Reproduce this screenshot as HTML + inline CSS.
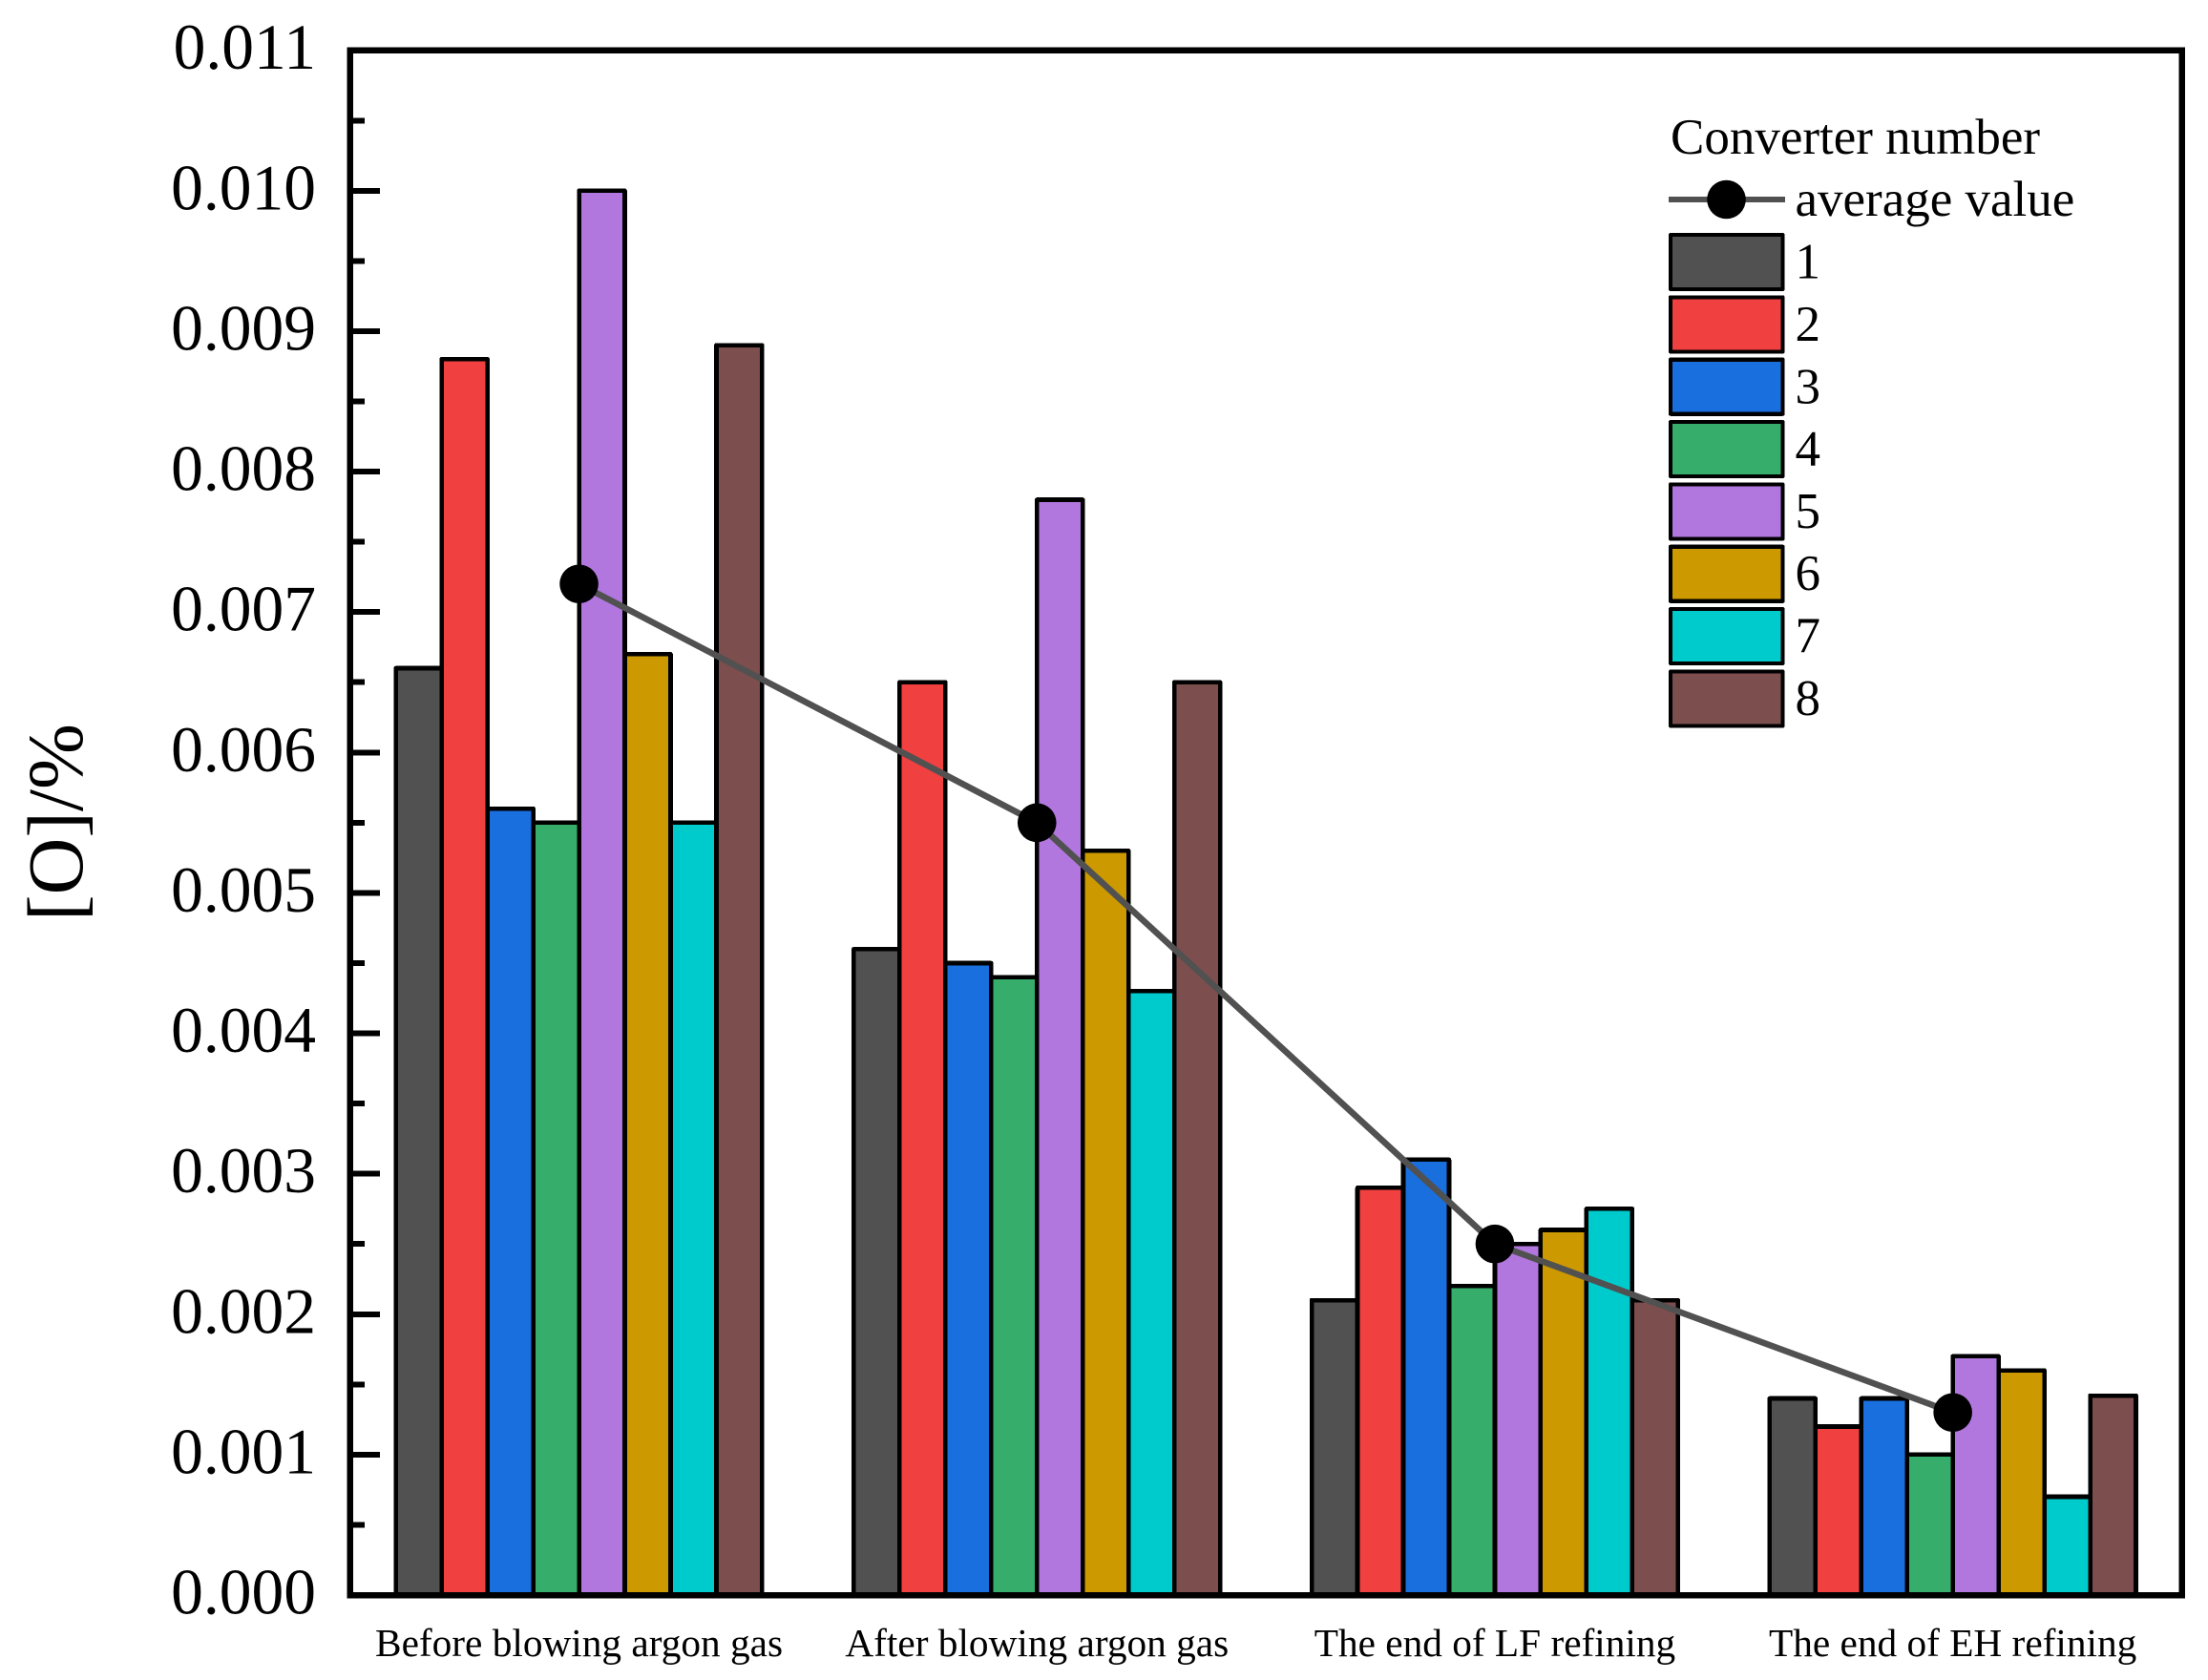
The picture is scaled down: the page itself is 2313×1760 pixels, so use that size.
<!DOCTYPE html>
<html lang="en">
<head>
<meta charset="utf-8">
<title>[O]/% by refining stage</title>
<style>
  html, body { margin: 0; padding: 0; background: #ffffff; }
  #chart { display: block; width: 2313px; height: 1760px; }
  text { font-family: "Liberation Serif", "Times New Roman", serif; fill: #000000; }
</style>
</head>
<body>
<svg id="chart" xmlns="http://www.w3.org/2000/svg" width="2313" height="1760" viewBox="0 0 2313 1760">
  <rect x="0" y="0" width="2313" height="1760" fill="#ffffff"></rect>
  <g id="bars" shape-rendering="crispEdges"></g>
  <g id="axes" shape-rendering="crispEdges"></g>
  <g id="avg"></g>
  <g id="labels"></g>
  <text transform="translate(86 861.5) rotate(-90)" text-anchor="middle" font-size="82.8">[O]/%</text>
  <g id="legend"></g>
</svg>
<script>
// ---- chart data ----
const categories = ["Before blowing argon gas", "After blowing argon gas", "The end of LF refining", "The end of EH refining"];
const converterNames = ["1", "2", "3", "4", "5", "6", "7", "8"];
const converter1 = [0.0066, 0.0046, 0.0021, 0.0014];
const converter2 = [0.0088, 0.0065, 0.0029, 0.0012];
const converter3 = [0.0056, 0.0045, 0.0031, 0.0014];
const converter4 = [0.0055, 0.0044, 0.0022, 0.0010];
const converter5 = [0.0100, 0.0078, 0.0025, 0.0017];
const converter6 = [0.0067, 0.0053, 0.0026, 0.0016];
const converter7 = [0.0055, 0.0043, 0.00275, 0.0007];
const converter8 = [0.0089, 0.0065, 0.0021, 0.00142];
const averageValues = [0.0072, 0.0055, 0.0025, 0.0013];
const yTickValues = [0, 0.001, 0.002, 0.003, 0.004, 0.005, 0.006, 0.007, 0.008, 0.009, 0.010, 0.011];
const yTickLabels = ["0.000", "0.001", "0.002", "0.003", "0.004", "0.005", "0.006", "0.007", "0.008", "0.009", "0.010", "0.011"];
const yMinorTickValues = [0.0005, 0.0015, 0.0025, 0.0035, 0.0045, 0.0055, 0.0065, 0.0075, 0.0085, 0.0095, 0.0105];

const allSeries = [converter1, converter2, converter3, converter4, converter5, converter6, converter7, converter8];
const palette = ["#515151", "#F14040", "#1A6FDF", "#37AD6B", "#B177DE", "#CC9900", "#00CBCC", "#7D4E4E"];
const lineColor = "#515151";

// ---- plot geometry and axis functions ----
const plot = { left: 366.7, right: 2285.5, top: 52.7, bottom: 1671 };
const yMax = 0.011;
function xScale(position) {
  return plot.left + (position + 0.5) * (plot.right - plot.left) / categories.length;
}
function yScale(value) {
  return plot.bottom - (value / yMax) * (plot.bottom - plot.top);
}
const barWidth = 0.1 * (plot.right - plot.left) / categories.length;

const NS = "http://www.w3.org/2000/svg";
function make(tag, parent, attrs) {
  const el = document.createElementNS(NS, tag);
  for (const k in attrs) el.setAttribute(k, attrs[k]);
  parent.appendChild(el);
  return el;
}

// ---- bars ----
const barsLayer = document.getElementById("bars");
allSeries.forEach(function (values, s) {
  values.forEach(function (v, c) {
    const left = xScale(c) + (s - allSeries.length / 2) * barWidth;
    const bar = make("rect", barsLayer, {
      x: left, y: yScale(v), width: barWidth, height: plot.bottom - yScale(v),
      fill: palette[s], stroke: "#000000", "stroke-width": 4.6, "stroke-linejoin": "round"
    });
    
    
  });
});

// ---- axes ----
const axesLayer = document.getElementById("axes");
const frame = make("rect", axesLayer, {
  x: plot.left, y: plot.top, width: plot.right - plot.left, height: plot.bottom - plot.top,
  fill: "none", stroke: "#000000", "stroke-width": 6.5
});



yTickValues.forEach(function (v) {
  const tick = make("line", axesLayer, {
    x1: plot.left, x2: 398, y1: yScale(v), y2: yScale(v), stroke: "#000000", "stroke-width": 6
  });
  
  
});
yMinorTickValues.forEach(function (v) {
  const tick = make("line", axesLayer, {
    x1: plot.left, x2: 382, y1: yScale(v), y2: yScale(v), stroke: "#000000", "stroke-width": 6
  });
  
  
});

// ---- tick labels ----
const labelsLayer = document.getElementById("labels");
yTickValues.forEach(function (v, i) {
  const t = make("text", labelsLayer, { x: 331, y: yScale(v) + 19.5, "text-anchor": "end", "font-size": 67.5 });
  t.textContent = yTickLabels[i];
  
  
});
categories.forEach(function (name, c) {
  const t = make("text", labelsLayer, { x: xScale(c), y: 1735, "text-anchor": "middle", "font-size": 41.3 });
  t.textContent = name;
  
  
});

// ---- average line ----
const avgLayer = document.getElementById("avg");
const avgLine = make("polyline", avgLayer, {
  points: averageValues.map(function (v, c) { return xScale(c) + "," + yScale(v); }).join(" "),
  fill: "none", stroke: lineColor, "stroke-width": 6.6, "stroke-linejoin": "round"
});


averageValues.forEach(function (v, c) {
  const dot = make("circle", avgLayer, { cx: xScale(c), cy: yScale(v), r: 20.3, fill: "#000000" });
  
  
});

// ---- legend ----
const legendLayer = document.getElementById("legend");
const legendTitle = make("text", legendLayer, { x: 1750, y: 161, "font-size": 53 });
legendTitle.textContent = "Converter number";



const legendLine = make("line", legendLayer, { x1: 1748, x2: 1870, y1: 209, y2: 209, stroke: lineColor, "stroke-width": 6 });


const legendDot = make("circle", legendLayer, { cx: 1808.5, cy: 209, r: 20.3, fill: "#000000" });


const legendAvgText = make("text", legendLayer, { x: 1880.5, y: 226, "font-size": 53 });
legendAvgText.textContent = "average value";



converterNames.forEach(function (name, i) {
  const top = 246 + i * 65.35;
  const swatch = make("rect", legendLayer, {
    x: 1750, y: top, width: 117.5, height: 57, fill: palette[i], stroke: "#000000", "stroke-width": 4.2,
    "stroke-linejoin": "round", "shape-rendering": "crispEdges"
  });
  
  
  const label = make("text", legendLayer, { x: 1880.5, y: 291.7 + i * 65.3, "font-size": 53 });
  label.textContent = name;
  
  
});
</script>
</body>
</html>
